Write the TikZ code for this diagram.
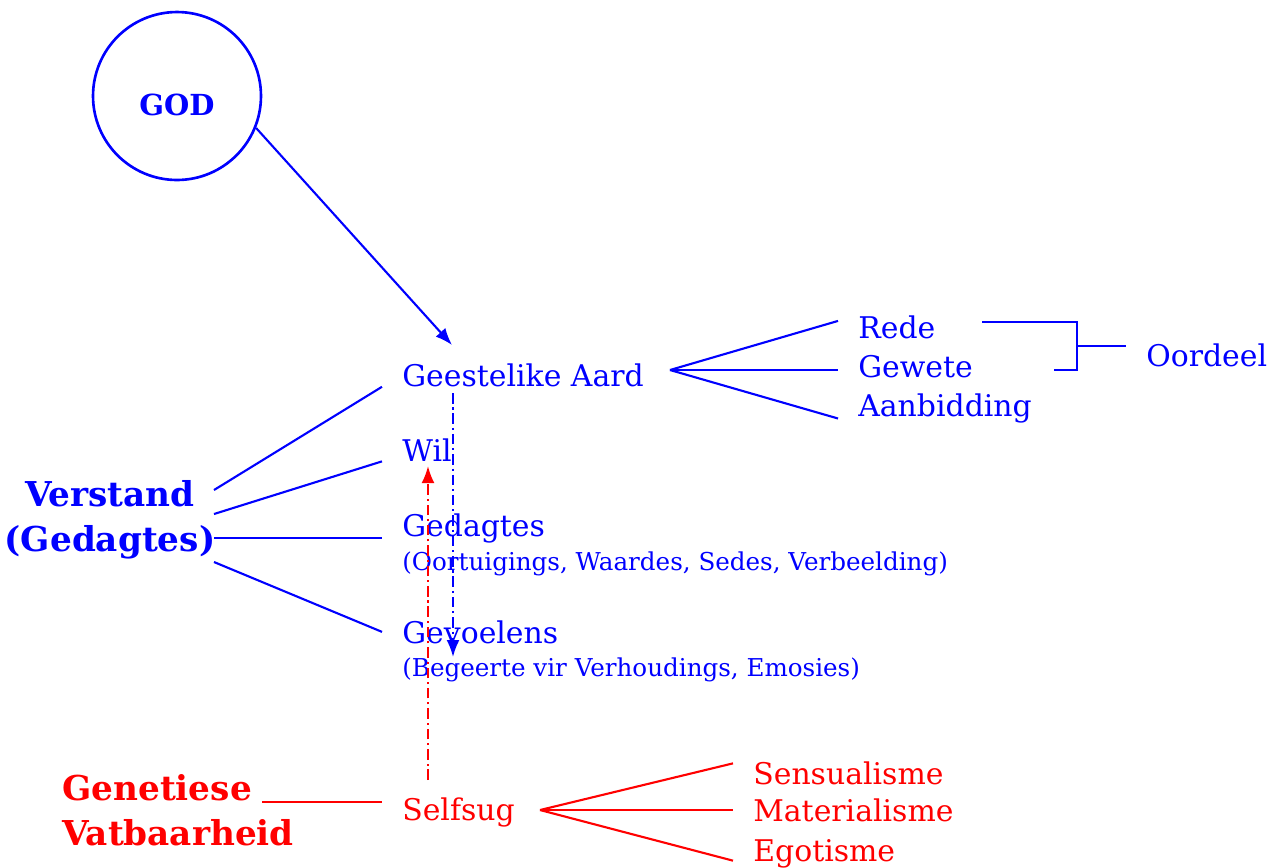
\documentclass[tikz,border=0pt]{standalone}
\usepackage{fontspec}
\setmainfont{DejaVu Serif}
\usetikzlibrary{arrows.meta,calc}
\definecolor{godblue}{RGB}{0,0,255}
\definecolor{selfred}{RGB}{255,0,0}
\tikzset{
  lbl/.style={anchor=base west,inner xsep=0.4cm,inner ysep=0pt,font=\fontsize{17}{19}\selectfont},
  sublbl/.style={anchor=base west,inner xsep=0pt,inner ysep=0pt,font=\fontsize{14}{16}\selectfont},
  bigbold/.style={font=\fontsize{19.5}{25.6}\selectfont\bfseries,inner sep=0pt},
  conn/.style={line width=1.2pt},
  tip/.style={-{Latex[length=0.34cm,width=0.26cm]}},
  dashdot/.style={line width=1.2pt,dash pattern=on 6pt off 2.2pt on 1.2pt off 2.2pt,tip}
}
\begin{document}
\begin{tikzpicture}[x=0.02cm,y=-0.02cm]
\useasboundingbox (0,0) rectangle (1280,867);
%\draw[help lines] (0,0) grid[step=1cm] (1280,867);
\node[circle,draw=godblue,line width=1.5pt,minimum size=3.36cm,text height=0.76cm,text depth=0pt,text=godblue,font=\fontsize{16.5}{18}\selectfont\bfseries] (god) at (177,96) {GOD};
\node[lbl,text=godblue] (aard) at (382,386) {Geestelike Aard};
\node[lbl,text=godblue] (rede) at (838,338) {Rede};
\node[lbl,text=godblue] (gewete) at (838,377) {Gewete};
\node[lbl,text=godblue] (aanb) at (838,416) {Aanbidding};
\node[lbl,text=godblue] (oordeel) at (1126,366) {Oordeel};
\node[lbl,text=godblue] (wil) at (382,461) {Wil};
\node[lbl,text=godblue] (gedagtes) at (382,536) {Gedagtes};
\node[sublbl,text=godblue] (gedsub) at (402,570) {(Oortuigings, Waardes, Sedes, Verbeelding)};
\node[lbl,text=godblue] (gevoel) at (382,643) {Gevoelens};
\node[sublbl,text=godblue] (gevsub) at (402,676) {(Begeerte vir Verhoudings, Emosies)};
\node[bigbold,text=godblue,align=center] (verstand) at (110,520) {Verstand\\(Gedagtes)};
\node[lbl,text=selfred] (selfsug) at (382,820) {Selfsug};
\node[lbl,text=selfred] (sens) at (733,784) {Sensualisme};
\node[lbl,text=selfred] (mat) at (733,821) {Materialisme};
\node[lbl,text=selfred] (ego) at (733,861) {Egotisme};
\node[bigbold,text=selfred,align=left,anchor=west] (genetic) at (62,810) {Genetiese\\Vatbaarheid};

\coordinate (aardin) at (452,345);
\coordinate (aardfan) at (670,370);
\coordinate (downtop) at (453,393);
\coordinate (downend) at (453,657);
\coordinate (uptop) at (428,466);
\coordinate (upend) at (428,780);
\coordinate (redeend) at (982,322);
\coordinate (geweteend) at (1054,370);
\coordinate (brkmid) at (1077,346);
\coordinate (vs1) at (214,490);
\coordinate (vs2) at (214,514);
\coordinate (vs3) at (214,538);
\coordinate (vs4) at (214,562);
\coordinate (genend) at (262,802);
\coordinate (selffan) at (540,810);

\draw[godblue,conn,tip] (god.-22) -- (aardin);
\draw[godblue,conn] (aardfan) -- ($(rede.west)!0.5!(rede.north west)$);
\draw[godblue,conn] (aardfan) -- (aardfan -| gewete.west);
\draw[godblue,conn] (aardfan) -- ($(aanb.west)!0.7!(aanb.south west)$);
\draw[godblue,conn] (redeend) -| (brkmid) |- (geweteend);
\draw[godblue,conn] (brkmid) -- (brkmid -| oordeel.west);
\draw[godblue,conn] (vs1) -- (aard.south west);
\draw[godblue,conn] (vs2) -- (wil.south west);
\draw[godblue,conn] (vs3) -- (vs3 -| gedagtes.west);
\draw[godblue,conn] (vs4) -- (gevoel.west);
\draw[godblue,dashdot] (downtop) -- (downend);
\draw[selfred,dashdot] (upend) -- (uptop);
\draw[selfred,conn] (genend) -- (genend -| selfsug.west);
\draw[selfred,conn] (selffan) -- ($(sens.west)!0.8!(sens.north west)$);
\draw[selfred,conn] (selffan) -- (selffan -| mat.west);
\draw[selfred,conn] (selffan) -- ($(ego.west)!0.5!(ego.south west)$);
\end{tikzpicture}
\end{document}
